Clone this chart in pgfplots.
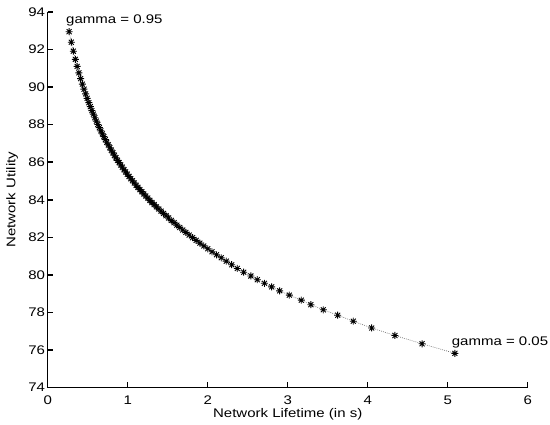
\documentclass[border=0pt]{standalone}
\usepackage{fontspec}
\setmainfont[FakeStretch=1.2]{Liberation Sans}
\usepackage{pgfplots}
\pgfplotsset{compat=1.18}
\newcommand\mf{\fontsize{12.5}{15}\selectfont}

% MATLAB-like asterisk: + and x together
\pgfdeclareplotmark{mstar}{%
  \pgfpathmoveto{\pgfpoint{-\pgfplotmarksize}{0pt}}%
  \pgfpathlineto{\pgfpoint{\pgfplotmarksize}{0pt}}%
  \pgfpathmoveto{\pgfpoint{0pt}{-\pgfplotmarksize}}%
  \pgfpathlineto{\pgfpoint{0pt}{\pgfplotmarksize}}%
  \pgfpathmoveto{\pgfpoint{-0.707\pgfplotmarksize}{-0.707\pgfplotmarksize}}%
  \pgfpathlineto{\pgfpoint{0.707\pgfplotmarksize}{0.707\pgfplotmarksize}}%
  \pgfpathmoveto{\pgfpoint{-0.707\pgfplotmarksize}{0.707\pgfplotmarksize}}%
  \pgfpathlineto{\pgfpoint{0.707\pgfplotmarksize}{-0.707\pgfplotmarksize}}%
  \pgfusepathqstroke}

\begin{document}
\begin{tikzpicture}
\path (-47.7pt,-36.5pt) rectangle (502.3pt,387.5pt);
\begin{axis}[
  scale only axis,
  width=480pt, height=375.5pt,
  at={(0pt,0pt)}, anchor=south west,
  xmin=0, xmax=6, ymin=74, ymax=94,
  xtick={0,1,...,6}, ytick={74,76,...,94},
  axis lines*=left,
  axis line style={line width=1.6pt},
  tick style={line width=1.6pt, black},
  tick align=inside,
  major tick length=5pt,
  /pgf/number format/assume math mode=true,
  tick label style={font=\mf},
  xticklabel style={inner sep=0pt, anchor=base, yshift=-16.5pt},
  yticklabel style={inner sep=0pt, xshift=-2.5pt},
  xlabel={Network Lifetime (in s)},
  ylabel={Network Utility},
  label style={font=\mf},
  xlabel style={at={(axis description cs:0.5,0)}, anchor=base, inner sep=0pt, yshift=-29.5pt},
  ylabel style={at={(axis description cs:-0.074,0.5)}, anchor=center},
  clip=false,
]
\addplot[black!60, line width=0.6pt, dash pattern=on 0.8pt off 1.2pt,
  mark=mstar, mark size=3.5pt,
  mark options={solid, black, line width=0.9pt}] coordinates {
(0.2680,92.95) (0.2953,92.39) (0.3208,91.91) (0.3451,91.48) (0.3682,91.10)
(0.3905,90.76) (0.4121,90.45) (0.4332,90.16) (0.4537,89.89) (0.4739,89.64)
(0.4937,89.40) (0.5132,89.17) (0.5325,88.96) (0.5516,88.75) (0.5706,88.56)
(0.5894,88.37) (0.6081,88.19) (0.6268,88.01) (0.6454,87.84) (0.6640,87.67)
(0.6827,87.51) (0.7013,87.36) (0.7200,87.20) (0.7387,87.06) (0.7575,86.92)
(0.7764,86.77) (0.7954,86.64) (0.8146,86.50) (0.8339,86.37) (0.8533,86.23)
(0.8729,86.10) (0.8927,85.98) (0.9128,85.85) (0.9330,85.73) (0.9535,85.60)
(0.9743,85.48) (0.9953,85.36) (1.0166,85.24) (1.0382,85.12) (1.0602,85.01)
(1.0825,84.89) (1.1053,84.77) (1.1284,84.66) (1.1519,84.54) (1.1759,84.43)
(1.2004,84.31) (1.2254,84.20) (1.2509,84.09) (1.2770,83.97) (1.3037,83.85)
(1.3311,83.74) (1.3591,83.62) (1.3879,83.51) (1.4174,83.39) (1.4478,83.27)
(1.4790,83.15) (1.5112,83.03) (1.5443,82.90) (1.5786,82.78) (1.6140,82.65)
(1.6506,82.52) (1.6885,82.39) (1.7279,82.26) (1.7688,82.12) (1.8113,81.98)
(1.8557,81.84) (1.9019,81.69) (1.9503,81.54) (2.0010,81.39) (2.0543,81.23)
(2.1103,81.07) (2.1694,80.91) (2.2319,80.73) (2.30,80.54) (2.37,80.34)
(2.45,80.14) (2.54,79.94) (2.62,79.74) (2.71,79.55) (2.80,79.36)
(2.90,79.15) (3.02,78.92) (3.17,78.65) (3.29,78.41) (3.445,78.14)
(3.625,77.85) (3.82,77.53) (4.05,77.17) (4.34,76.77) (4.68,76.33)
(5.09,75.82)
};
\node[anchor=base west, inner sep=0pt, font=\mf] at (axis cs:0.229,93.40) {gamma = 0.95};
\node[anchor=base west, inner sep=0pt, font=\mf] at (axis cs:5.05,76.26) {gamma = 0.05};
\end{axis}
\end{tikzpicture}
\end{document}
